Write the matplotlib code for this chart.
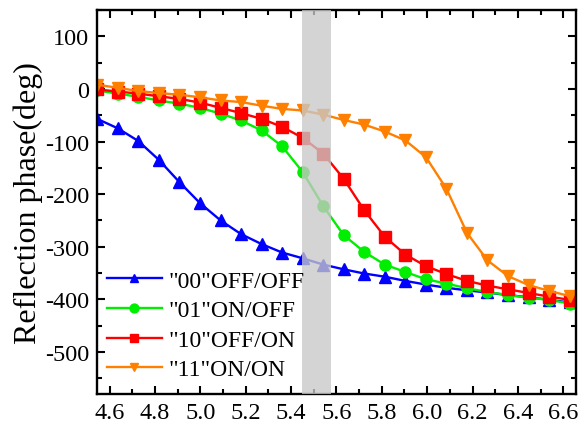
import matplotlib
matplotlib.use("Agg")
import matplotlib.pyplot as plt
from matplotlib.ticker import MultipleLocator, FormatStrFormatter

plt.rcParams['font.family'] = ['Liberation Serif', 'DejaVu Serif']
plt.rcParams['axes.unicode_minus'] = False
plt.rcParams['xtick.labelsize'] = 17.5
plt.rcParams['ytick.labelsize'] = 17.5

freq = [4.545, 4.636, 4.726, 4.817, 4.907, 4.998, 5.089, 5.179, 5.270, 5.360,
        5.451, 5.542, 5.632, 5.723, 5.813, 5.904, 5.995, 6.085, 6.176, 6.266,
        6.357, 6.448, 6.538, 6.629]

phase_00 = [-57, -75, -99, -135, -177, -217, -250, -276, -295, -311, -322, -334,
            -343, -351, -357, -365, -372, -378, -383, -387, -392, -396, -401, -406]
phase_01 = [-3, -9, -15, -22, -28, -36, -47, -60, -79, -109, -158, -223,
            -278, -310, -334, -348, -362, -370, -379, -386, -392, -397, -401, -408]
phase_10 = [-1, -5, -9, -14, -19, -26, -36, -46, -57, -72, -93, -123,
            -171, -231, -281, -315, -337, -352, -365, -374, -381, -388, -395, -401]
phase_11 = [8, 2, -4, -8, -11, -16, -22, -25, -32, -38, -41, -49,
            -59, -68, -81, -98, -130, -190, -274, -326, -356, -373, -384, -394]

labels = ['"00"OFF/OFF', '"01"ON/OFF', '"10"OFF/ON', '"11"ON/ON']
colors = ['#0000ff', '#00ee00', '#ff0000', '#ff8000']
markers = ['^', 'o', 's', 'v']
band = [5.45, 5.574]

fig = plt.figure(figsize=(5.8, 4.31), dpi=100)
ax = fig.add_axes([0.168, 0.0835, 0.825, 0.891])

for y, lab, c, m in zip([phase_00, phase_01, phase_10, phase_11], labels, colors, markers):
    ax.plot(freq, y, color=c, marker=m, markersize=8, linewidth=1.7, label=lab)

ax.axvspan(band[0], band[1], color='#c8c8c8', alpha=0.78, linewidth=0, zorder=5)

ax.set_xlim(4.546, 6.656)
ax.set_ylim(-580, 150)
ax.xaxis.set_major_locator(MultipleLocator(0.2))
ax.xaxis.set_minor_locator(MultipleLocator(0.1))
ax.yaxis.set_major_locator(MultipleLocator(100))
ax.yaxis.set_minor_locator(MultipleLocator(50))
ax.xaxis.set_major_formatter(FormatStrFormatter('%.1f'))

ax.tick_params(which='both', direction='in', top=True, right=True, width=1.5, pad=6)
ax.tick_params(which='major', length=6)
ax.tick_params(which='minor', length=3.5)
for s in ax.spines.values():
    s.set_linewidth(1.7)

ax.set_ylabel('Reflection phase(deg)', fontsize=23)
ax.yaxis.set_label_coords(-0.114, 0.5)

ax.legend(loc='lower left', frameon=False, fontsize=17, handlelength=2.33,
          handletextpad=0.28, labelspacing=0.34, borderaxespad=0.3,
          borderpad=0.1, markerscale=0.8, bbox_to_anchor=(0.0, 0.011))

fig.savefig('out.png', dpi=100)
